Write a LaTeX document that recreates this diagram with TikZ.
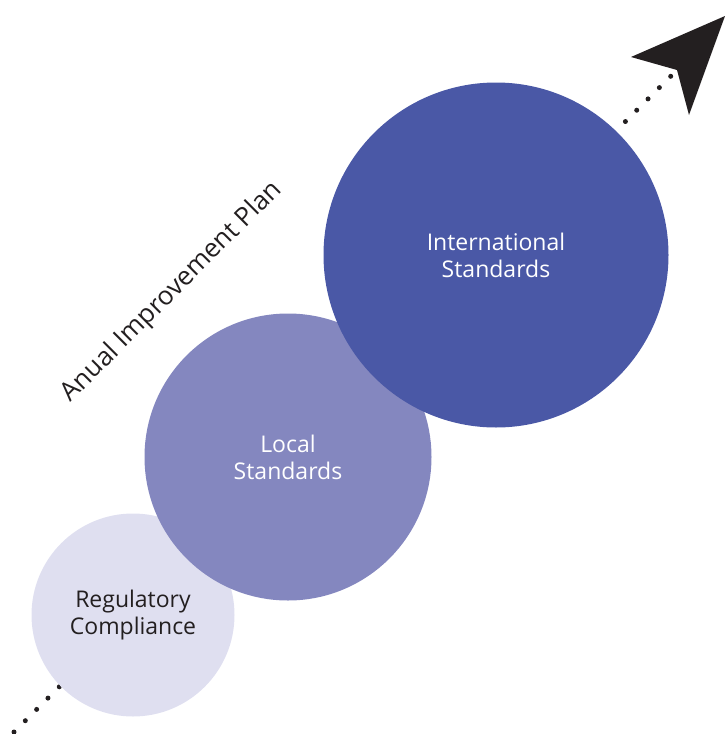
\documentclass[tikz,border=0pt]{standalone}
\usepackage{fontspec}
\setmainfont{Open Sans}
\definecolor{lightlav}{RGB}{223,223,240}
\definecolor{midlav}{RGB}{132,135,191}
\definecolor{darklav}{RGB}{74,88,166}
\definecolor{inkgray}{RGB}{35,31,32}
\begin{document}
\begin{tikzpicture}[x=1pt,y=-1pt,
  stage/.style={circle,inner sep=0pt,align=center,font=\fontsize{23}{27}\selectfont}]
\useasboundingbox (0,0) rectangle (724,734);
% dotted path
\coordinate (start) at (14,732);
\coordinate (notch) at (677,70);
\draw[inkgray,line width=5pt,line cap=round,dash pattern=on 0pt off 16pt] (start) -- (notch);
% arrow head
\fill[inkgray] (631,57) -- (725,16) -- (689,115) -- (notch) -- cycle;
% stages
\node[stage,fill=lightlav,text=inkgray,minimum size=203] (reg) at (133,615) {Regulatory\\Compliance};
\node[stage,fill=midlav,text=white,minimum size=287] (local) at (288,457) {Local\\Standards};
\node[stage,fill=darklav,text=white,minimum size=345] (intl) at (496,255) {International\\Standards};
% plan label
\node[rotate=45,text=inkgray,font=\fontsize{26}{30}\selectfont] (plan) at (172,292) {Anual Improvement Plan};
\end{tikzpicture}
\end{document}
